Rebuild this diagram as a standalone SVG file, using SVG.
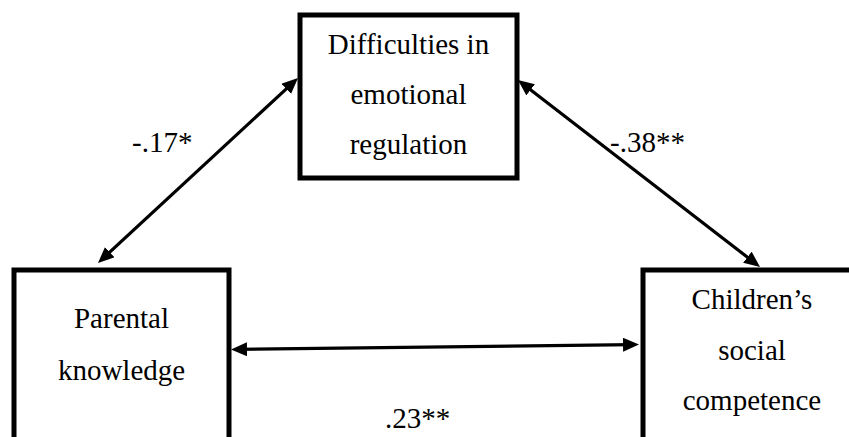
<svg xmlns="http://www.w3.org/2000/svg" width="849" height="437" viewBox="0 0 849 437">
<style>
.box{fill:#fff;stroke:#000;stroke-width:5}
.t{font-family:"Liberation Serif","Times New Roman",serif;font-size:29px;fill:#000}
.c{text-anchor:middle}
.link{stroke:#000;stroke-width:3.2;fill:none;marker-start:url(#ah);marker-end:url(#ah)}
</style>
<defs>
<marker id="ah" markerUnits="userSpaceOnUse" markerWidth="18" markerHeight="15" refX="10" refY="7" orient="auto-start-reverse" viewBox="0 0 18 15">
<path d="M0,0 L16,7 L0,14 z" fill="#000"/>
</marker>
</defs>
<rect width="849" height="437" fill="#fff"/>
<g id="connectors">
<line class="link" x1="102.4" y1="258.9" x2="293.6" y2="82.1"/>
<line class="link" x1="522.7" y1="83.7" x2="755.3" y2="263.3"/>
<line class="link" x1="237" y1="349.4" x2="633" y2="344.6"/>
<text class="t" x="132" y="152">-.17*</text>
<text class="t" x="610" y="152">-.38**</text>
<text class="t" x="385" y="428">.23**</text>
</g>
<g id="node-der">
<rect class="box" x="300" y="15" width="217" height="163"/>
<text class="t c" x="408.5" y="54">Difficulties in</text>
<text class="t c" x="408.5" y="104">emotional</text>
<text class="t c" x="408.5" y="154">regulation</text>
</g>
<g id="node-pk">
<rect class="box" x="14" y="270" width="215" height="185"/>
<text class="t c" x="121.5" y="328">Parental</text>
<text class="t c" x="121.5" y="380">knowledge</text>
</g>
<g id="node-csc">
<rect class="box" x="643" y="270" width="220" height="185"/>
<text class="t c" x="752" y="309">Children’s</text>
<text class="t c" x="752" y="360">social</text>
<text class="t c" x="752" y="410">competence</text>
</g>
</svg>
